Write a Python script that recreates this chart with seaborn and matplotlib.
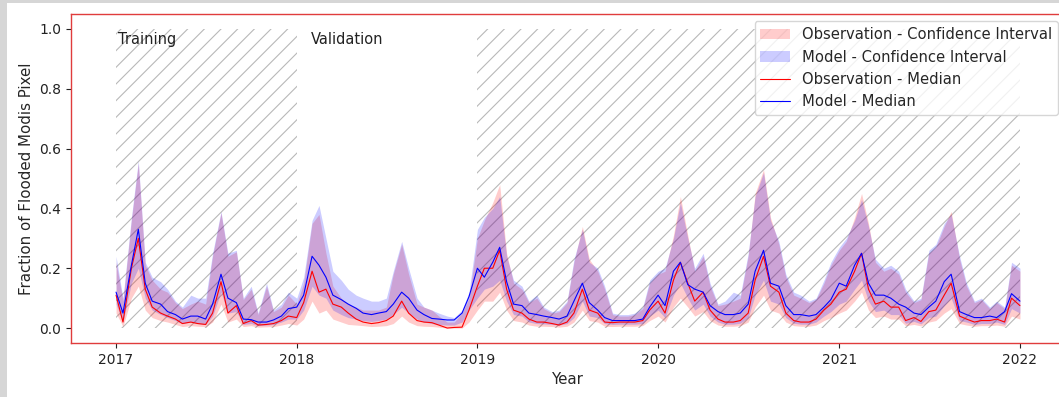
import numpy as np
import pandas as pd
import matplotlib
matplotlib.use("Agg")
import matplotlib.pyplot as plt
import matplotlib.dates as mdates
from matplotlib.patches import Patch, Rectangle
from matplotlib.lines import Line2D
import seaborn as sns

# Semi-monthly sampling dates
dates = pd.date_range("2017-01-01", "2022-01-01", freq="SMS")

# Median fraction of flooded pixels
model_median = (
    [0.12, 0.05, 0.21, 0.33, 0.15, 0.09, 0.08, 0.055, 0.045, 0.03, 0.04, 0.04,
     0.03, 0.08, 0.18, 0.10, 0.085, 0.03, 0.028, 0.02, 0.02, 0.027, 0.04, 0.065]
    + [0.07, 0.11, 0.24, 0.21, 0.17, 0.11, 0.095, 0.08, 0.066, 0.05, 0.045, 0.05,
       0.055, 0.08, 0.12, 0.10, 0.06, 0.045, 0.032, 0.03, 0.027, 0.027, 0.05, 0.105]
    + [0.2, 0.17, 0.22, 0.27, 0.155, 0.08, 0.075, 0.05, 0.045, 0.04, 0.035, 0.03,
       0.04, 0.09, 0.15, 0.085, 0.06, 0.035, 0.025, 0.025, 0.025, 0.025, 0.03, 0.07]
    + [0.11, 0.075, 0.19, 0.22, 0.145, 0.13, 0.12, 0.075, 0.055, 0.045, 0.045, 0.05,
       0.08, 0.19, 0.26, 0.15, 0.14, 0.075, 0.045, 0.045, 0.04, 0.045, 0.07, 0.095]
    + [0.15, 0.14, 0.21, 0.25, 0.15, 0.11, 0.11, 0.1, 0.08, 0.07, 0.05, 0.045,
       0.07, 0.09, 0.155, 0.18, 0.055, 0.045, 0.035, 0.035, 0.04, 0.035, 0.055, 0.115, 0.09]
)
obs_median = (
    [0.11, 0.02, 0.20, 0.30, 0.13, 0.07, 0.05, 0.04, 0.03, 0.015, 0.02, 0.015,
     0.012, 0.05, 0.155, 0.05, 0.075, 0.015, 0.025, 0.01, 0.012, 0.015, 0.025, 0.04]
    + [0.035, 0.085, 0.19, 0.12, 0.13, 0.08, 0.07, 0.05, 0.03, 0.02, 0.015, 0.018,
       0.025, 0.04, 0.09, 0.05, 0.025, 0.02, 0.018, 0.01, 0.0, 0.002, 0.003, 0.06]
    + [0.14, 0.2, 0.2, 0.26, 0.13, 0.06, 0.05, 0.03, 0.02, 0.02, 0.015, 0.01,
       0.02, 0.05, 0.13, 0.06, 0.05, 0.02, 0.018, 0.02, 0.02, 0.02, 0.025, 0.06]
    + [0.09, 0.05, 0.16, 0.22, 0.15, 0.09, 0.12, 0.06, 0.03, 0.02, 0.02, 0.025,
       0.05, 0.16, 0.24, 0.14, 0.12, 0.05, 0.025, 0.02, 0.02, 0.03, 0.06, 0.08]
    + [0.12, 0.13, 0.19, 0.25, 0.13, 0.08, 0.09, 0.07, 0.07, 0.025, 0.035, 0.022,
       0.055, 0.06, 0.11, 0.15, 0.04, 0.03, 0.02, 0.025, 0.025, 0.03, 0.02, 0.10, 0.075]
)

# Confidence interval bounds
model_upper = (
    [0.24, 0.10, 0.37, 0.56, 0.22, 0.17, 0.155, 0.13, 0.09, 0.07, 0.11, 0.10,
     0.10, 0.25, 0.39, 0.25, 0.26, 0.10, 0.14, 0.05, 0.15, 0.06, 0.08, 0.12]
    + [0.10, 0.17, 0.36, 0.41, 0.30, 0.19, 0.16, 0.13, 0.11, 0.10, 0.09, 0.09,
       0.10, 0.19, 0.29, 0.20, 0.10, 0.07, 0.06, 0.05, 0.04, 0.035, 0.06, 0.12]
    + [0.33, 0.37, 0.40, 0.44, 0.24, 0.16, 0.14, 0.09, 0.11, 0.07, 0.055, 0.06,
       0.09, 0.23, 0.33, 0.22, 0.2, 0.14, 0.05, 0.045, 0.045, 0.05, 0.07, 0.16]
    + [0.19, 0.2, 0.30, 0.42, 0.30, 0.20, 0.25, 0.15, 0.08, 0.09, 0.12, 0.11,
       0.25, 0.44, 0.52, 0.36, 0.29, 0.18, 0.12, 0.11, 0.09, 0.1, 0.16, 0.22]
    + [0.27, 0.3, 0.36, 0.43, 0.34, 0.23, 0.2, 0.21, 0.19, 0.13, 0.09, 0.1,
       0.26, 0.28, 0.35, 0.38, 0.24, 0.15, 0.09, 0.1, 0.07, 0.09, 0.07, 0.22, 0.2]
)
obs_upper = (
    [0.22, 0.09, 0.36, 0.55, 0.21, 0.16, 0.13, 0.12, 0.085, 0.065, 0.08, 0.09,
     0.08, 0.24, 0.385, 0.24, 0.255, 0.095, 0.13, 0.045, 0.14, 0.055, 0.07, 0.11]
    + [0.08, 0.15, 0.35, 0.38, 0.25, 0.14, 0.10, 0.08, 0.07, 0.06, 0.06, 0.06,
       0.07, 0.18, 0.28, 0.18, 0.08, 0.07, 0.06, 0.04, 0.02, 0.02, 0.05, 0.10]
    + [0.30, 0.36, 0.42, 0.48, 0.25, 0.15, 0.13, 0.085, 0.10, 0.065, 0.05, 0.055,
       0.085, 0.22, 0.34, 0.23, 0.19, 0.13, 0.045, 0.04, 0.04, 0.045, 0.065, 0.15]
    + [0.18, 0.19, 0.31, 0.44, 0.31, 0.19, 0.24, 0.14, 0.075, 0.08, 0.09, 0.1,
       0.24, 0.45, 0.53, 0.37, 0.28, 0.17, 0.11, 0.1, 0.085, 0.095, 0.15, 0.21]
    + [0.26, 0.29, 0.37, 0.45, 0.35, 0.22, 0.19, 0.2, 0.18, 0.12, 0.085, 0.095,
       0.25, 0.27, 0.34, 0.39, 0.23, 0.14, 0.085, 0.095, 0.065, 0.085, 0.065, 0.21, 0.19]
)
obs_lower = (
    [0.05, 0.005, 0.1, 0.14, 0.06, 0.035, 0.025, 0.02, 0.012, 0.005, 0.008, 0.006,
     0.005, 0.02, 0.08, 0.02, 0.03, 0.005, 0.008, 0.003, 0.004, 0.005, 0.01, 0.015]
    + [0.01, 0.03, 0.09, 0.05, 0.06, 0.03, 0.02, 0.012, 0.01, 0.008, 0.005, 0.006,
       0.008, 0.015, 0.04, 0.02, 0.008, 0.006, 0.005, 0.003, 0.0, 0.0, 0.0, 0.02]
    + [0.06, 0.09, 0.09, 0.12, 0.06, 0.025, 0.02, 0.01, 0.006, 0.006, 0.005, 0.003,
       0.006, 0.02, 0.06, 0.025, 0.02, 0.006, 0.005, 0.006, 0.006, 0.006, 0.008, 0.025]
    + [0.04, 0.02, 0.07, 0.1, 0.07, 0.04, 0.055, 0.025, 0.01, 0.006, 0.006, 0.008,
       0.02, 0.07, 0.11, 0.06, 0.05, 0.02, 0.008, 0.006, 0.006, 0.01, 0.025, 0.035]
    + [0.05, 0.06, 0.09, 0.12, 0.06, 0.035, 0.04, 0.03, 0.03, 0.008, 0.012, 0.007,
       0.02, 0.025, 0.05, 0.065, 0.015, 0.01, 0.006, 0.008, 0.008, 0.01, 0.006, 0.04, 0.03]
)
model_lower = (
    [0.08, 0.02, 0.15, 0.2, 0.1, 0.06, 0.045, 0.035, 0.025, 0.015, 0.02, 0.015,
     0.012, 0.04, 0.12, 0.05, 0.055, 0.012, 0.015, 0.008, 0.01, 0.012, 0.02, 0.03]
    + [0.03, 0.06, 0.14, 0.11, 0.1, 0.06, 0.045, 0.035, 0.03, 0.025, 0.022, 0.025,
       0.03, 0.045, 0.07, 0.05, 0.03, 0.02, 0.015, 0.012, 0.01, 0.01, 0.02, 0.06]
    + [0.1, 0.13, 0.14, 0.16, 0.09, 0.045, 0.04, 0.02, 0.015, 0.014, 0.012, 0.01,
       0.015, 0.035, 0.09, 0.04, 0.035, 0.015, 0.012, 0.013, 0.013, 0.013, 0.015, 0.04]
    + [0.06, 0.035, 0.11, 0.15, 0.1, 0.06, 0.08, 0.04, 0.02, 0.013, 0.013, 0.016,
       0.035, 0.11, 0.16, 0.09, 0.08, 0.035, 0.016, 0.013, 0.013, 0.02, 0.04, 0.055]
    + [0.08, 0.09, 0.13, 0.16, 0.09, 0.055, 0.06, 0.045, 0.045, 0.016, 0.022, 0.014,
       0.035, 0.04, 0.075, 0.1, 0.025, 0.02, 0.012, 0.015, 0.015, 0.02, 0.012, 0.065, 0.05]
)

# Study periods
period_starts = ["2017-01-01", "2018-01-01", "2019-01-01"]
period_ends = ["2018-01-01", "2019-01-01", "2022-01-01"]
period_hatched = [True, False, True]
label_texts = ["Training", "Validation"]
label_dates = ["2017-01-04", "2018-01-29"]

df = pd.DataFrame({
    "Year": dates,
    "obs_median": obs_median,
    "model_median": model_median,
    "obs_lower": obs_lower,
    "obs_upper": obs_upper,
    "model_lower": model_lower,
    "model_upper": model_upper,
})

DPI = 100

sns.set_style("ticks")
plt.rcParams["font.family"] = ["DejaVu Sans"]
plt.rcParams.update({
    "font.size": 10,
    "hatch.linewidth": 0.8,
    "patch.linewidth": 1.0,
})

W, H = 1059, 397
fig = plt.figure(figsize=(W / DPI, H / DPI), dpi=DPI)
fig.patch.set_facecolor("white")
ax = fig.add_axes([71 / W, 54 / H, (1065 - 71) / W, (383 - 54) / H])

# Hatched training periods
for s, e, hatched in zip(period_starts, period_ends, period_hatched):
    if hatched:
        ax.fill_between([pd.Timestamp(s), pd.Timestamp(e)], 0, 1.0,
                        facecolor="none", edgecolor="#b8b8b8",
                        linewidth=0, hatch="//", zorder=0)
for lab, d in zip(label_texts, label_dates):
    ax.text(pd.Timestamp(d), 0.965, lab, va="center", ha="left",
            fontsize=10.5, color="#222222")

# Confidence bands
ax.fill_between(df["Year"], df["obs_lower"], df["obs_upper"], color="red",
                alpha=0.2, linewidth=0, zorder=1)
ax.fill_between(df["Year"], df["model_lower"], df["model_upper"], color="blue",
                alpha=0.2, linewidth=0, zorder=1)

# Medians
sns.lineplot(data=df, x="Year", y="obs_median", color="red", linewidth=0.8,
             ax=ax, zorder=3)
sns.lineplot(data=df, x="Year", y="model_median", color="blue", linewidth=0.8,
             ax=ax, zorder=4)

ax.set_xlim(pd.Timestamp("2016-10-02"), pd.Timestamp("2022-04-02"))
ax.set_ylim(-0.05, 1.05)
ax.set_yticks(np.arange(0, 1.01, 0.2))
ax.yaxis.set_major_formatter(matplotlib.ticker.FormatStrFormatter("%.1f"))
ax.xaxis.set_major_locator(mdates.YearLocator())
ax.xaxis.set_major_formatter(mdates.DateFormatter("%Y"))
ax.set_xlabel("Year", fontsize=10.8)
ax.set_ylabel("Fraction of Flooded Modis Pixel", fontsize=10.8)
ax.tick_params(labelsize=10, length=3.5, width=0.8, colors="#222222")

for sp in ax.spines.values():
    sp.set_color("#e03c3c")
    sp.set_linewidth(1.0)

handles = [
    Patch(facecolor="red", alpha=0.2, edgecolor="none", label="Observation - Confidence Interval"),
    Patch(facecolor="blue", alpha=0.2, edgecolor="none", label="Model - Confidence Interval"),
    Line2D([], [], color="red", linewidth=0.8, label="Observation - Median"),
    Line2D([], [], color="blue", linewidth=0.8, label="Model - Median"),
]
ax.legend(handles=handles, loc="upper right", fontsize=10.6, frameon=True,
          borderaxespad=0.5)

# Light grey window edges
fig.patches.append(Rectangle((0, 0), 7 / W, 1, transform=fig.transFigure,
                             facecolor="#d6d6d6", edgecolor="none", zorder=-1))
fig.patches.append(Rectangle((0, 1 - 3 / H), 1, 3 / H, transform=fig.transFigure,
                             facecolor="#d6d6d6", edgecolor="none", zorder=-1))

fig.savefig("out.png", dpi=DPI)
